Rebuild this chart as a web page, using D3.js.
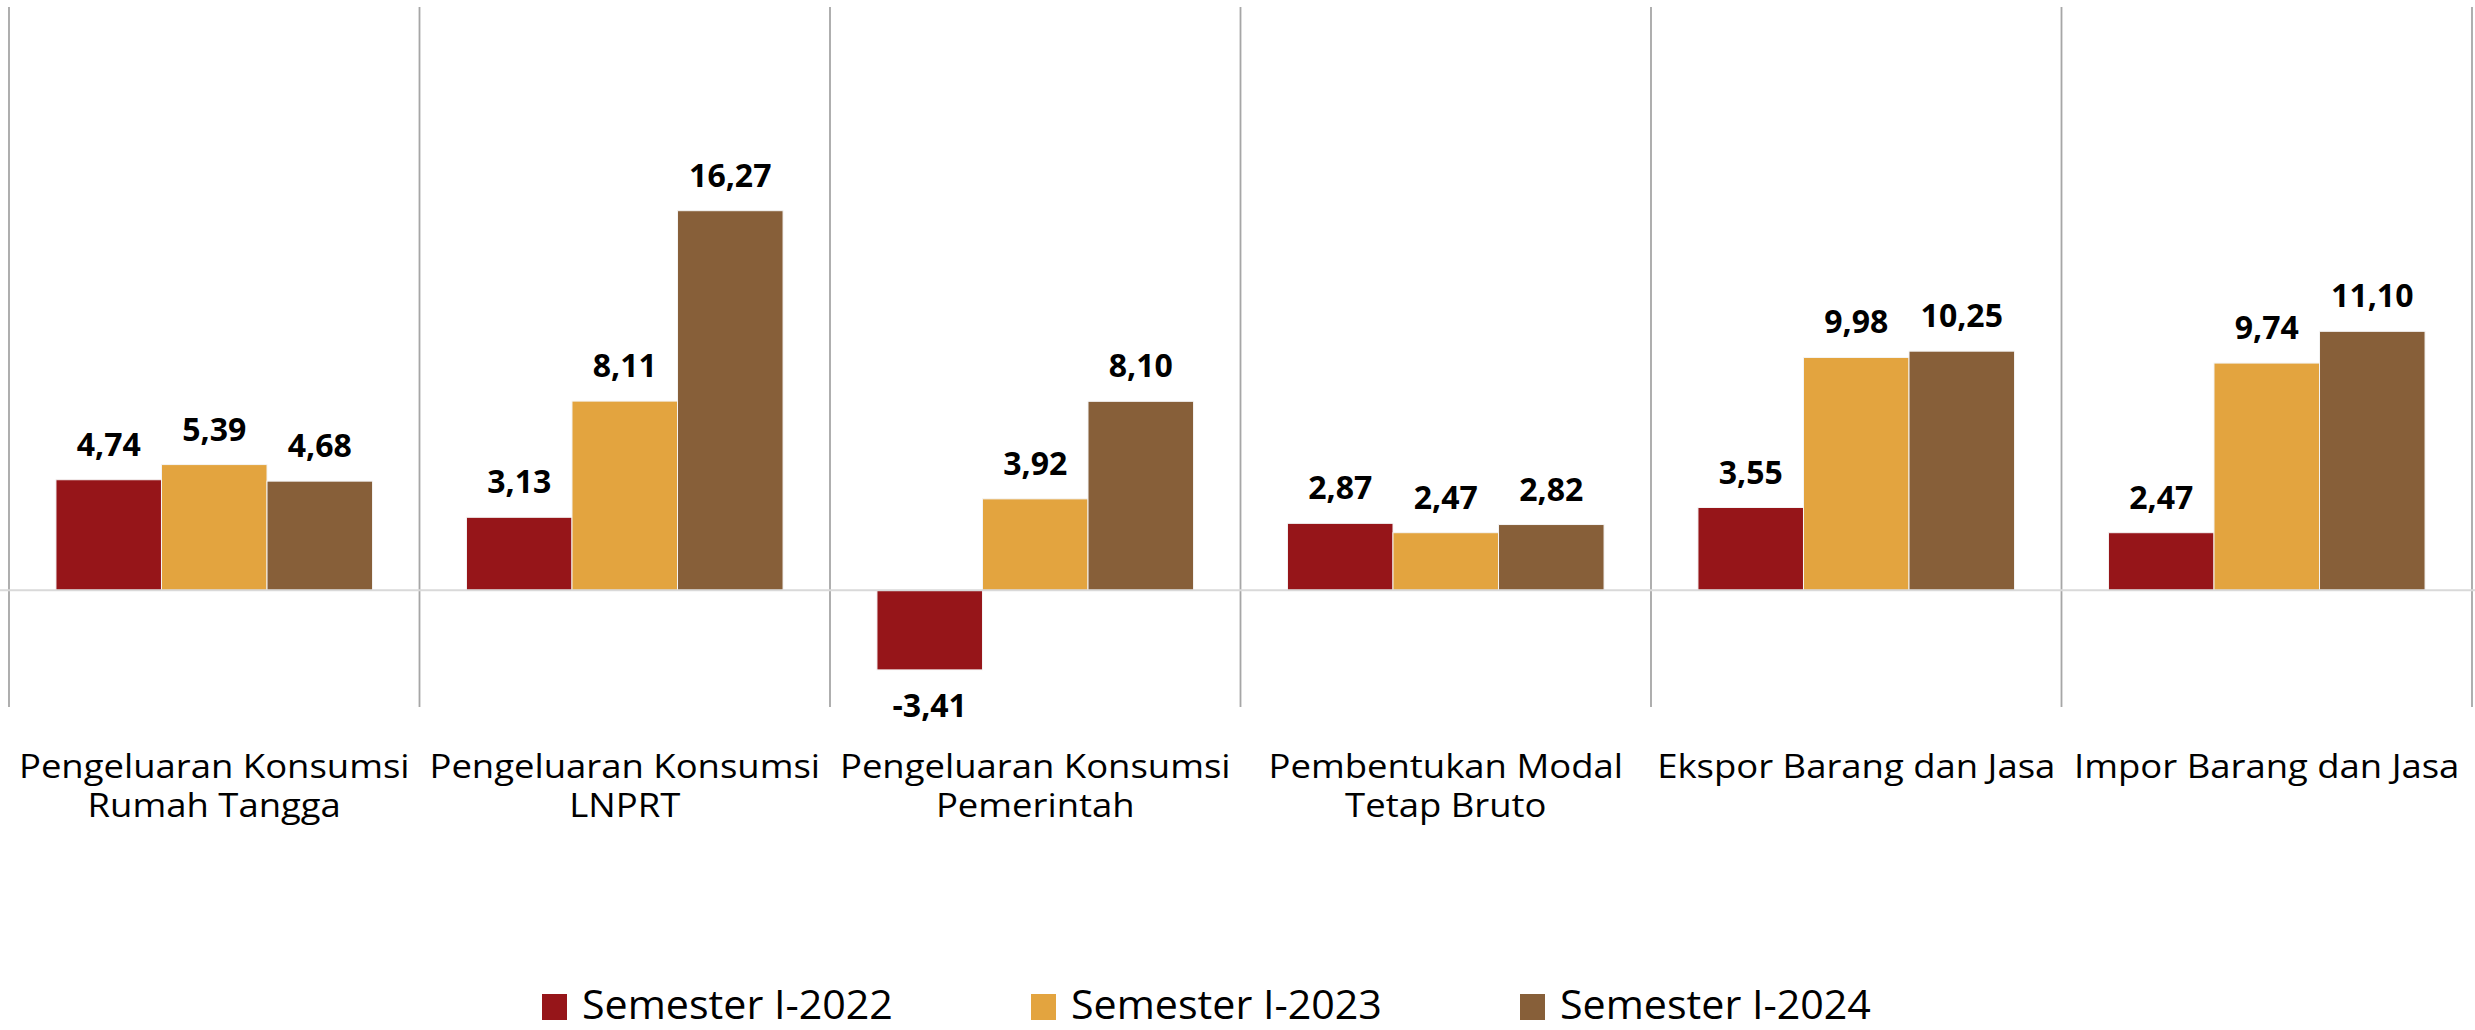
<!DOCTYPE html>
<html>
<head>
<meta charset="utf-8">
<script src="https://cdn.jsdelivr.net/npm/d3@7"></script>
<style>
  body { margin: 0; background: #fff; }
  svg { display: block; }
</style>
</head>
<body>
<svg id="chart" width="2475" height="1030"></svg>
<script>
// data
var categories = [
  "Pengeluaran Konsumsi|Rumah Tangga",
  "Pengeluaran Konsumsi|LNPRT",
  "Pengeluaran Konsumsi|Pemerintah",
  "Pembentukan Modal|Tetap Bruto",
  "Ekspor Barang dan Jasa",
  "Impor Barang dan Jasa"
];
var seriesNames = ["Semester I-2022", "Semester I-2023", "Semester I-2024"];
var sem2022 = [4.74, 3.13, -3.41, 2.87, 3.55, 2.47];
var sem2023 = [5.39, 8.11, 3.92, 2.47, 9.98, 9.74];
var sem2024 = [4.68, 16.27, 8.10, 2.82, 10.25, 11.10];
var yDomain = [-5, 25];

var colors = ["#961519", "#E3A43F", "#875F39"];
var allSeries = [sem2022, sem2023, sem2024];

var svg = d3.select("#chart");
var plotLeft = 9, plotRight = 2472, plotTop = 7, plotBottom = 707;

var x0 = d3.scaleBand()
  .domain(d3.range(categories.length))
  .range([plotLeft, plotRight])
  .padding(0);

var x1 = d3.scaleBand()
  .domain(d3.range(seriesNames.length))
  .range([0, x0.bandwidth()])
  .paddingInner(0)
  .paddingOuter(0.445);

var y = d3.scaleLinear().domain(yDomain).range([plotBottom, plotTop]);

var loc = d3.formatLocale({decimal: ",", thousands: ".", grouping: [3], currency: ["Rp", ""], minus: "-"});
var fmt = loc.format(".2f");

// vertical separators between categories
var seps = d3.range(categories.length + 1).map(function(i) {
  return i < categories.length ? x0(i) : x0(categories.length - 1) + x0.bandwidth();
});
svg.append("g").selectAll("line")
  .data(seps)
  .enter().append("line")
  .attr("x1", function(d) { return d; })
  .attr("x2", function(d) { return d; })
  .attr("y1", plotTop)
  .attr("y2", plotBottom)
  .attr("stroke", "#A6A6A6")
  .attr("stroke-width", 1.8);

// bars
var rows = [];
for (var c = 0; c < categories.length; c++) {
  for (var s = 0; s < allSeries.length; s++) {
    rows.push({c: c, s: s, v: allSeries[s][c]});
  }
}

svg.append("g").selectAll("rect")
  .data(rows)
  .enter().append("rect")
  .attr("x", function(d) { return x0(d.c) + x1(d.s); })
  .attr("y", function(d) { return y(Math.max(0, d.v)); })
  .attr("width", x1.bandwidth())
  .attr("height", function(d) { return Math.abs(y(d.v) - y(0)); })
  .attr("fill", function(d) { return colors[d.s]; })
  .attr("stroke", "#f4f4f4")
  .attr("stroke-width", 1);

// zero line
svg.append("line")
  .attr("x1", 0)
  .attr("x2", 2475)
  .attr("y1", y(0))
  .attr("y2", y(0))
  .attr("stroke", "#D9D9D9")
  .attr("stroke-width", 2);

// value labels
svg.append("g").selectAll("text")
  .data(rows)
  .enter().append("text")
  .attr("x", function(d) { return x0(d.c) + x1(d.s) + x1.bandwidth() / 2; })
  .attr("y", function(d) { return d.v >= 0 ? y(d.v) - 24 : y(d.v) + 47; })
  .attr("text-anchor", "middle")
  .attr("font-family", "'Open Sans', sans-serif")
  .attr("font-weight", 700)
  .attr("font-size", "32px")
  .attr("fill", "#000")
  .text(function(d) { return fmt(d.v); });

// category labels (a bit wider than the font, as in the original)
var catG = svg.append("g");
categories.forEach(function(name, i) {
  var lines = name.split("|");
  var t = catG.append("text")
    .attr("transform", "translate(" + [x0(i) + x0.bandwidth() / 2, 778] + ") scale(1.14,1)")
    .attr("text-anchor", "middle")
    .attr("font-family", "'Open Sans', sans-serif")
    .attr("font-size", "32px")
    .attr("fill", "#000");
  lines.forEach(function(l, k) {
    t.append("tspan")
      .attr("x", 0)
      .attr("y", k * 39)
      .text(l);
  });
});

// legend
var leg = svg.append("g").attr("transform", "translate(542,994)");
seriesNames.forEach(function(n, i) {
  var g = leg.append("g").attr("transform", "translate(" + (i * 489) + ",0)");
  g.append("rect")
    .attr("width", 25)
    .attr("height", 26)
    .attr("fill", colors[i]);
  g.append("text")
    .attr("transform", "translate(40,25) scale(1.03,1)")
    .attr("font-family", "'Open Sans', sans-serif")
    .attr("font-size", "40px")
    .attr("fill", "#000")
    .text(n);
});
</script>
</body>
</html>
